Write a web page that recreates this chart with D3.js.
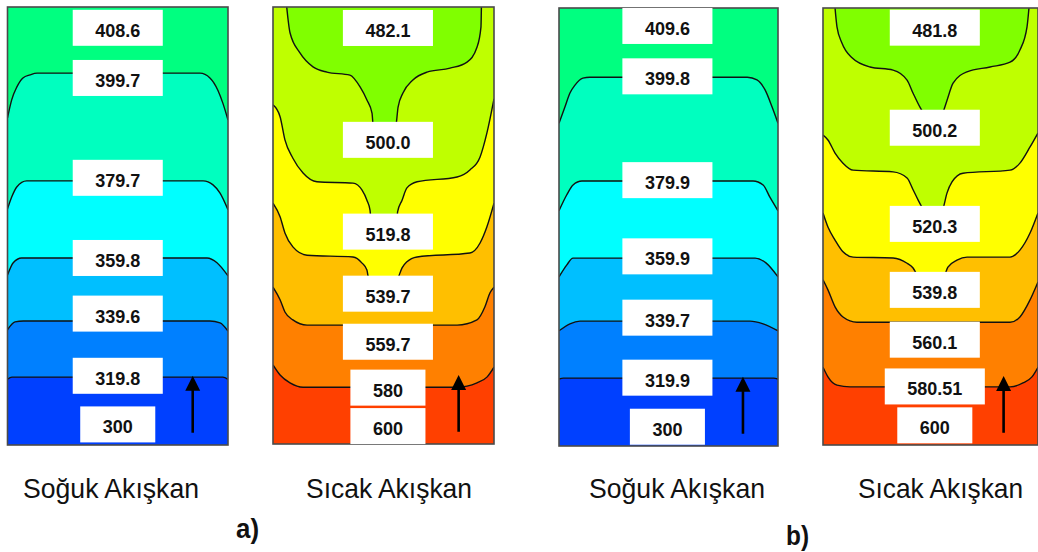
<!DOCTYPE html>
<html>
<head>
<meta charset="utf-8">
<script src="https://cdn.jsdelivr.net/npm/d3@7"></script>
<style>
  body { margin: 0; background: #fff; }
  svg { display: block; font-family: "Liberation Sans", Arial, sans-serif; }
</style>
</head>
<body>
<svg id="chart" width="1038" height="552"></svg>
<script>
// isotherm colours, top band first
const coldColors = ['#00ff80', '#00ffbf', '#00ffff', '#00bfff', '#0080ff', '#0040ff'];
const hotColors = ['#80ff00', '#bfff00', '#ffff00', '#ffbf00', '#ff8000', '#ff4000'];

// contour lines: [x % of width, depth % from top]
const coldAContours = [
  [[0, 25.3], [1.9, 21.2], [4.2, 18.3], [7, 16.2], [10.2, 15.5], [13.4, 15.1], [87.3, 15.1], [91.8, 16.2], [95.4, 19], [97.7, 22], [100, 25.8]],
  [[0, 46.1], [1.9, 43.4], [4.2, 41.1], [8.7, 39.7], [88.7, 39.7], [93.2, 40.6], [96.4, 42.5], [100, 46.3]],
  [[0, 61.2], [2.6, 58.4], [6.4, 57.3], [90.5, 57.3], [95, 58.4], [100, 61.4]],
  [[0, 73.7], [3.4, 71.9], [7.2, 71.7], [91.8, 71.7], [96.4, 72.1], [100, 74]],
  [[0, 85], [2, 84.5], [97.7, 84.5], [100, 85]]
];
const hotAContours = [
  [[6.2, 0], [7.7, 5.9], [12.2, 10.5], [18.1, 13.7], [24.4, 14.9], [34.8, 15.6], [39.4, 18.3], [42.5, 21.3], [44.8, 24.3], [45.4, 27.5], [50.2, 30], [55.5, 27.5], [56.6, 22.9], [58.8, 19.7], [63.3, 16.7], [69.7, 14.9], [80.1, 14], [87.8, 12.6], [92.3, 9.2], [94.1, 4.6], [94.3, 0]],
  [[0, 22.4], [3.2, 25.1], [5.4, 30.4], [9, 34.6], [13.6, 38], [19.9, 40], [36.2, 40.3], [40.3, 41.9], [42.5, 44.2], [43.9, 46.5], [44.4, 49], [50.2, 53], [56, 49], [56.4, 46.8], [58.4, 44.2], [60.6, 41.4], [65.2, 40], [83.3, 38.9], [89.1, 37.3], [93.7, 34.3], [96.8, 28.8], [100, 21]],
  [[0, 44.9], [3.2, 48], [5.4, 51.7], [9, 54.9], [15.4, 56.8], [36.2, 57.2], [40.3, 58.6], [42.5, 60.2], [43.2, 62], [50, 66], [56.6, 62], [58.4, 59.7], [60.6, 58.3], [65.2, 57.2], [89.1, 56.3], [93.7, 54], [96.8, 50.3], [100, 44.9]],
  [[0, 64.1], [3.2, 67], [5.4, 69.8], [9, 71.6], [15.4, 72.8], [83.3, 72.8], [92.3, 71.6], [95.9, 68.6], [98.2, 65.4], [100, 64.1]],
  [[0, 81.9], [3.2, 84.2], [7.7, 86], [13.6, 87], [83.3, 87], [92.3, 86], [96.8, 84.7], [100, 82.4]]
];
const coldBContours = [
  [[0, 26.3], [2.7, 22.6], [5, 19.4], [7.3, 17.6], [10.9, 16], [14, 15.8], [86, 15.8], [90.4, 16.4], [94.1, 18.7], [97.3, 22.6], [100, 26.3]],
  [[0, 46.3], [3.5, 42.7], [6.4, 40.4], [10.5, 39.5], [88.6, 39.5], [93.2, 40.4], [96.3, 43.2], [100, 46.3]],
  [[0, 61.4], [3.5, 58.7], [6.4, 57.1], [89.5, 57.1], [94.5, 58.2], [100, 61.4]],
  [[0, 73.7], [5, 72.1], [9.6, 71.5], [87.2, 71.5], [93.2, 72.1], [100, 73.7]],
  [[0, 84.7], [2, 84.5], [98, 84.5], [100, 84.7]]
];
const hotBContours = [
  [[5.6, 0], [6.5, 4.3], [8.8, 8], [13.5, 11.4], [21.9, 13.5], [32.6, 14.2], [39.1, 16.5], [41.9, 19.5], [45.1, 22.7], [46.5, 23.9], [51.2, 27.5], [55.8, 23.9], [57.7, 21.1], [60.5, 17.2], [67, 14.6], [77.7, 13.5], [87, 12.4], [91.6, 9.6], [94.9, 4.3], [95.8, 0]],
  [[0, 29.1], [2.3, 30.2], [5.6, 33.2], [9.3, 35.5], [14, 37.1], [32.6, 37.5], [39.1, 38.9], [41.9, 41.6], [44.2, 43.9], [46.5, 46], [51.2, 49.5], [55.8, 46], [57.7, 42.3], [60, 39.8], [65.1, 37.8], [87, 37.1], [91.6, 35.5], [96.3, 31.8], [100, 28.6]],
  [[0, 46.9], [2.3, 50.1], [5.6, 53.1], [9.3, 55.8], [14, 57], [32.6, 57.2], [39.1, 58.4], [41.9, 59.5], [43.7, 61], [50.7, 65], [56.7, 61], [58.1, 59.3], [62.3, 57.7], [67, 57], [87, 57], [91.6, 55.4], [96.3, 51.5], [100, 46.9]],
  [[0, 62.2], [2.3, 64.5], [5.6, 68.4], [9.3, 70.7], [15.8, 71.9], [87, 71.9], [91.6, 70.7], [96.3, 66.8], [100, 62.7]],
  [[0, 82.2], [2.3, 84.4], [6.5, 86.3], [12.6, 86.7], [87, 86.7], [93, 85.8], [97.2, 84.4], [100, 82.2]]
];

// temperature labels and where they sit (depth %)
const coldALabels = ['408.6', '399.7', '379.7', '359.8', '339.6', '319.8', '300'];
const coldADepths = [4.75, 16.2, 39.0, 57.3, 70.0, 84.2, 95.3];
const hotALabels = ['482.1', '500.0', '519.8', '539.7', '559.7', '580', '600'];
const hotADepths = [4.8, 30.4, 51.4, 65.6, 76.6, 87.1, 95.9];
const coldBLabels = ['409.6', '399.8', '379.9', '359.9', '339.7', '319.9', '300'];
const coldBDepths = [4.1, 15.6, 39.3, 56.7, 70.7, 84.4, 95.6];
const hotBLabels = ['481.8', '500.2', '520.3', '539.8', '560.1', '580.51', '600'];
const hotBDepths = [4.5, 27.4, 49.4, 64.5, 75.9, 86.6, 95.5];

const captions = ['Soğuk Akışkan', 'Sıcak Akışkan', 'Soğuk Akışkan', 'Sıcak Akışkan'];
const caseLabels = ['a)', 'b)'];

// layout
const panels = [
  {x0: 7.5, x1: 228, y0: 7, y1: 445, colors: coldColors, contours: coldAContours, labels: coldALabels, depths: coldADepths, labelX: 50, capX: 111, capW: 176},
  {x0: 273, x1: 494, y0: 7, y1: 444, colors: hotColors, contours: hotAContours, labels: hotALabels, depths: hotADepths, labelX: 52, capX: 389, capW: 166},
  {x0: 559, x1: 778, y0: 8, y1: 446, colors: coldColors, contours: coldBContours, labels: coldBLabels, depths: coldBDepths, labelX: 49.5, capX: 677, capW: 176},
  {x0: 823, x1: 1038, y0: 8, y1: 445, colors: hotColors, contours: hotBContours, labels: hotBLabels, depths: hotBDepths, labelX: 52, capX: 940.5, capW: 165}
];

const svg = d3.select('#chart');
const defs = svg.append('defs');

panels.forEach((p, i) => {
  const x = d3.scaleLinear().domain([0, 100]).range([p.x0, p.x1]);
  const y = d3.scaleLinear().domain([0, 100]).range([p.y0, p.y1]);

  defs.append('clipPath').attr('id', 'clip' + i)
    .append('rect')
    .attr('x', p.x0).attr('y', p.y0)
    .attr('width', p.x1 - p.x0).attr('height', p.y1 - p.y0);

  const g = svg.append('g');
  const body = g.append('g').attr('clip-path', 'url(#clip' + i + ')');

  body.append('rect')
    .attr('x', p.x0).attr('y', p.y0)
    .attr('width', p.x1 - p.x0).attr('height', p.y1 - p.y0)
    .attr('fill', p.colors[p.colors.length - 1]);

  const area = d3.area()
    .x(d => x(d[0]))
    .y0(y(0))
    .y1(d => y(d[1]))
    .curve(d3.curveMonotoneX);
  const line = d3.line()
    .x(d => x(d[0]))
    .y(d => y(d[1]))
    .curve(d3.curveMonotoneX);

  // paint bands bottom-up, each one fills everything above its line
  for (let k = p.contours.length - 1; k >= 0; k--) {
    body.append('path').attr('d', area(p.contours[k])).attr('fill', p.colors[k]);
  }
  body.selectAll('.iso')
    .data(p.contours)
    .join('path')
    .attr('class', 'iso')
    .attr('d', line)
    .attr('fill', 'none')
    .attr('stroke', '#111')
    .attr('stroke-width', 1.4);

  g.append('rect')
    .attr('x', p.x0).attr('y', p.y0)
    .attr('width', p.x1 - p.x0).attr('height', p.y1 - p.y0)
    .attr('fill', 'none')
    .attr('stroke', '#4a4a4a')
    .attr('stroke-width', 1.6);

  // flow direction arrow
  const ax = x(84), tip = y(84.2), base = y(97.2);
  g.append('line')
    .attr('x1', ax).attr('x2', ax)
    .attr('y1', base).attr('y2', tip + 10)
    .attr('stroke', '#000').attr('stroke-width', 2.6);
  g.append('path')
    .attr('d', `M${ax},${tip}L${ax - 7.5},${tip + 15}L${ax + 7.5},${tip + 15}Z`)
    .attr('fill', '#000');

  // value boxes
  const lab = g.append('g').selectAll('g')
    .data(d3.zip(p.labels, p.depths))
    .join('g')
    .attr('transform', d => `translate(${x(p.labelX)},${y(d[1])})`);
  lab.append('rect').attr('fill', '#fff');
  lab.append('text')
    .attr('text-anchor', 'middle')
    .attr('y', 9)
    .attr('font-size', 18)
    .attr('font-weight', 'bold')
    .attr('fill', '#111')
    .text(d => d[0]);
  lab.each(function() {
    const w = d3.select(this).select('text').node().getComputedTextLength() + 45;
    d3.select(this).select('rect')
      .attr('x', -w / 2).attr('y', -18)
      .attr('width', w).attr('height', 36);
  });

  svg.append('text')
    .attr('x', p.capX - p.capW / 2)
    .attr('y', 498)
    .attr('font-size', 28)
    .attr('fill', '#111')
    .attr('textLength', p.capW)
    .attr('lengthAdjust', 'spacingAndGlyphs')
    .text(captions[i]);
});

svg.selectAll('.case')
  .data(caseLabels)
  .join('text')
  .attr('class', 'case')
  .attr('x', (d, i) => i ? 786 : 236)
  .attr('y', (d, i) => i ? 545 : 538)
  .attr('font-size', 28)
  .attr('font-weight', 'bold')
  .attr('fill', '#111')
  .attr('textLength', 23)
  .attr('lengthAdjust', 'spacingAndGlyphs')
  .text(d => d);
</script>
</body>
</html>
